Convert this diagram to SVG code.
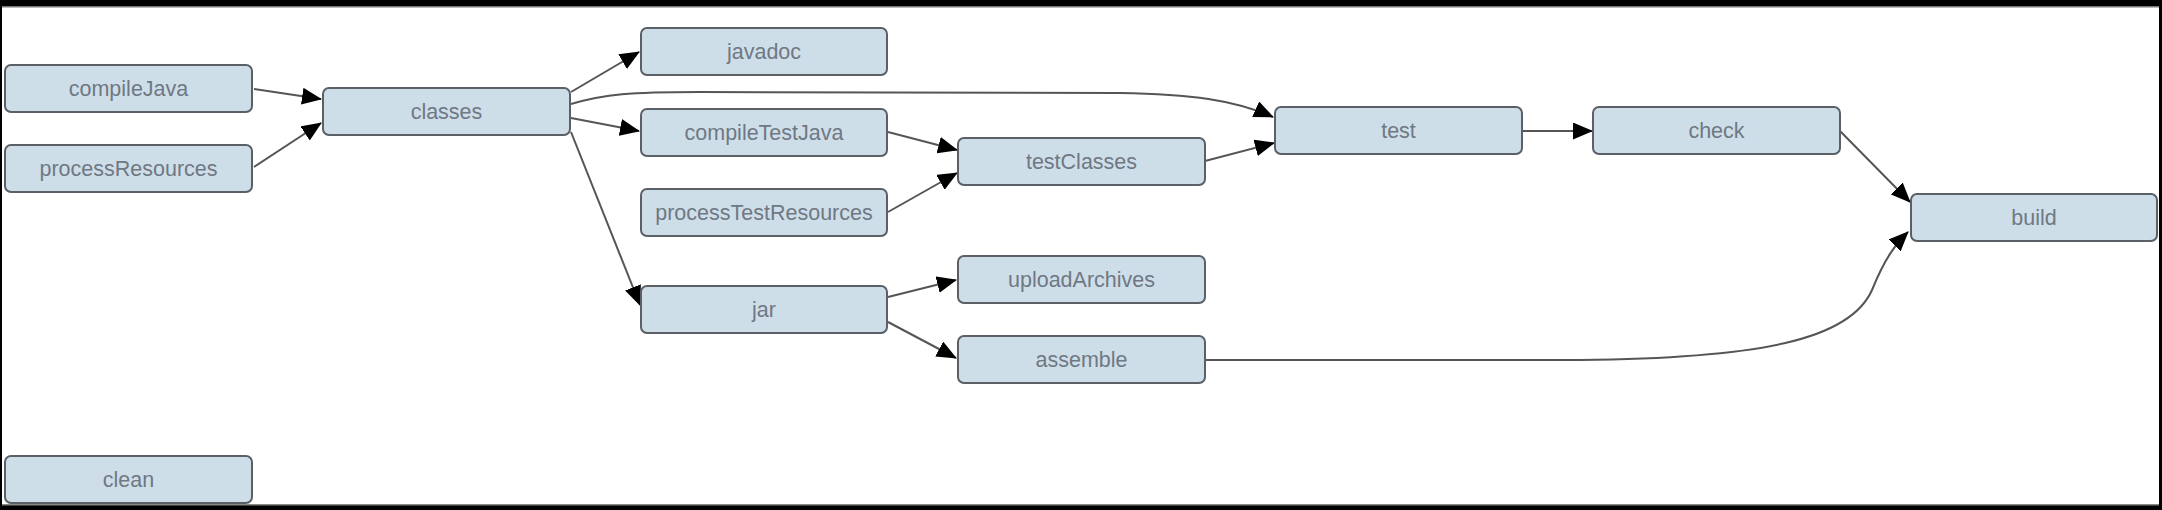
<svg xmlns="http://www.w3.org/2000/svg" width="2162" height="510" viewBox="0 0 2162 510">
<style>
.node rect{fill:#cedee9;stroke:#5b6067;stroke-width:2}
.node text{font-family:"Liberation Sans",Arial,sans-serif;font-size:21.5px;fill:#6f7883;text-anchor:middle}
.edges path{fill:none;stroke:#555;stroke-width:2;marker-end:url(#arr)}
</style>
<defs>
<marker id="arr" markerUnits="userSpaceOnUse" markerWidth="20" markerHeight="17" refX="19" refY="8.5" orient="auto">
<path d="M0,0 L20,8.5 L0,17 z" fill="#000"/>
</marker>
</defs>
<rect x="0" y="0" width="2162" height="510" fill="#fff"/>
<rect x="0" y="0" width="2162" height="6" fill="#000"/>
<rect x="0" y="6" width="2162" height="1.5" fill="#777"/>
<rect x="0" y="505" width="2162" height="5" fill="#000"/>
<rect x="0" y="504" width="2162" height="1.5" fill="#888"/>
<rect x="0" y="0" width="2" height="510" fill="#000"/>
<rect x="2159" y="0" width="3" height="510" fill="#000"/>
<g class="edges">
<path d="M254,89 L321,99"/>
<path d="M254,167 L321,123"/>
<path d="M571,92 L639,52"/>
<path d="M571,118 L639,131"/>
<path d="M571,104 C605,94 630,92 700,92 L1120,93 C1190,94 1235,100 1273,117"/>
<path d="M571,132 L640,305"/>
<path d="M888,132 L957,150"/>
<path d="M888,212 L957,173"/>
<path d="M1205,161 L1274,143"/>
<path d="M1523,131 L1592,131"/>
<path d="M1840,131 L1910,202"/>
<path d="M888,297 L956,280"/>
<path d="M888,322 L956,358"/>
<path d="M1204,360 L1580,360 C1760,358 1850,340 1872,290 C1885,258 1895,245 1908,232"/>
</g>
<g id="compileJava" class="node"><rect x="5" y="65" width="247" height="47" rx="6"/><text x="128.5" y="96">compileJava</text></g>
<g id="processResources" class="node"><rect x="5" y="145" width="247" height="47" rx="6"/><text x="128.5" y="176">processResources</text></g>
<g id="classes" class="node"><rect x="323" y="88" width="247" height="47" rx="6"/><text x="446.5" y="119">classes</text></g>
<g id="javadoc" class="node"><rect x="641" y="28" width="246" height="47" rx="6"/><text x="764" y="59">javadoc</text></g>
<g id="compileTestJava" class="node"><rect x="641" y="109" width="246" height="47" rx="6"/><text x="764" y="140">compileTestJava</text></g>
<g id="processTestResources" class="node"><rect x="641" y="189" width="246" height="47" rx="6"/><text x="764" y="220">processTestResources</text></g>
<g id="jar" class="node"><rect x="641" y="286" width="246" height="47" rx="6"/><text x="764" y="317">jar</text></g>
<g id="testClasses" class="node"><rect x="958" y="138" width="247" height="47" rx="6"/><text x="1081.5" y="169">testClasses</text></g>
<g id="uploadArchives" class="node"><rect x="958" y="256" width="247" height="47" rx="6"/><text x="1081.5" y="287">uploadArchives</text></g>
<g id="assemble" class="node"><rect x="958" y="336" width="247" height="47" rx="6"/><text x="1081.5" y="367">assemble</text></g>
<g id="test" class="node"><rect x="1275" y="107" width="247" height="47" rx="6"/><text x="1398.5" y="138">test</text></g>
<g id="check" class="node"><rect x="1593" y="107" width="247" height="47" rx="6"/><text x="1716.5" y="138">check</text></g>
<g id="build" class="node"><rect x="1911" y="194" width="246" height="47" rx="6"/><text x="2034" y="225">build</text></g>
<g id="clean" class="node"><rect x="5" y="456" width="247" height="47" rx="6"/><text x="128.5" y="487">clean</text></g>
</svg>
